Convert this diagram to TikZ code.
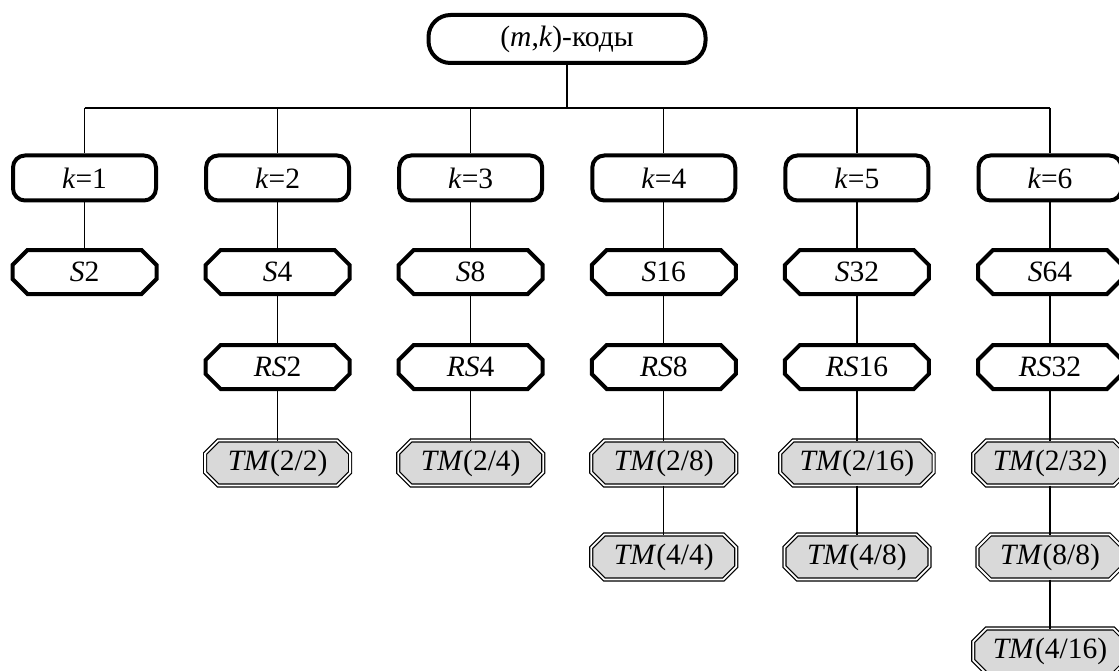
\documentclass[tikz,border=0pt]{standalone}
\usepackage{fontspec}
\setmainfont{Liberation Serif}
\usetikzlibrary{backgrounds}
\definecolor{tmgray}{RGB}{217,217,217}
\newcommand\octpath[2]{([xshift=#2]#1.north west) -- ([xshift=-#2]#1.north east)
  -- ([yshift=-#2]#1.north east) -- ([yshift=#2]#1.south east)
  -- ([xshift=-#2]#1.south east) -- ([xshift=#2]#1.south west)
  -- ([yshift=#2]#1.south west) -- ([yshift=-#2]#1.north west) -- cycle}
\tikzset{
  base/.style={font=\fontsize{29.5}{34}\selectfont, inner sep=0pt, align=center},
  topbox/.style={base, draw, line width=4pt, rounded corners=22pt, minimum width=277pt, minimum height=48pt},
  kbox/.style={base, draw, line width=4pt, rounded corners=12pt, minimum width=143pt, minimum height=45pt},
  octbox/.style={base, rectangle, outer sep=0pt, minimum width=144pt, minimum height=44pt},
  tmbox/.style={base, rectangle, outer sep=0pt, inner xsep=19.5pt, minimum width=145pt, minimum height=45pt},
  octline/.style={draw, line width=4pt, line join=miter},
  tmline/.style={draw, fill=tmgray, double=white, line width=1.2pt, double distance=1.8pt, line join=miter},
  conn/.style={line width=1.3pt}
}
\begin{document}
\begin{tikzpicture}[x=1pt,y=-1pt]
\useasboundingbox (0,0) rectangle (1119,671);
\clip (0,0) rectangle (1119,671);
% top
\node[topbox] (top) at (567,39) {(\textit{m},\textit{k})-коды};
% column 1
\node[kbox] (k1) at (84.5,178) {\textit{k}=1};
\node[octbox] (s1) at (84.5,272) {\textit{S}2};
% column 2
\node[kbox] (k2) at (277.6,178) {\textit{k}=2};
\node[octbox] (s2) at (277.6,272) {\textit{S}4};
\node[octbox] (r2) at (277.6,367) {\textit{RS}2};
\node[tmbox] (t2a) at (277.6,463) {\textit{TM}(2/2)};
% column 3
\node[kbox] (k3) at (470.7,178) {\textit{k}=3};
\node[octbox] (s3) at (470.7,272) {\textit{S}8};
\node[octbox] (r3) at (470.7,367) {\textit{RS}4};
\node[tmbox] (t3a) at (470.7,463) {\textit{TM}(2/4)};
% column 4
\node[kbox] (k4) at (663.8,178) {\textit{k}=4};
\node[octbox] (s4) at (663.8,272) {\textit{S}16};
\node[octbox] (r4) at (663.8,367) {\textit{RS}8};
\node[tmbox] (t4a) at (663.8,463) {\textit{TM}(2/8)};
\node[tmbox] (t4b) at (663.8,557) {\textit{TM}(4/4)};
% column 5
\node[kbox] (k5) at (856.9,178) {\textit{k}=5};
\node[octbox] (s5) at (856.9,272) {\textit{S}32};
\node[octbox] (r5) at (856.9,367) {\textit{RS}16};
\node[tmbox] (t5a) at (856.9,463) {\textit{TM}(2/16)};
\node[tmbox] (t5b) at (856.9,557) {\textit{TM}(4/8)};
% column 6
\node[kbox] (k6) at (1050,178) {\textit{k}=6};
\node[octbox] (s6) at (1050,272) {\textit{S}64};
\node[octbox] (r6) at (1050,367) {\textit{RS}32};
\node[tmbox] (t6a) at (1050,463) {\textit{TM}(2/32)};
\node[tmbox] (t6b) at (1050,557) {\textit{TM}(8/8)};
\node[tmbox] (t6c) at (1050,651) {\textit{TM}(4/16)};
% octagon outlines behind the texts
\begin{pgfonlayer}{background}
  \foreach \n in {s1,s2,s3,s4,s5,s6,r2,r3,r4,r5,r6} {\path[octline] \octpath{\n}{15pt};}
  \foreach \n in {t2a,t3a,t4a,t4b,t5a,t5b,t6a,t6b,t6c} {\path[tmline] \octpath{\n}{13pt};}
\end{pgfonlayer}
% bus
\coordinate (bus) at (567,108);
\coordinate (b1) at (84.5,108);
\coordinate (b2) at (277.6,108);
\coordinate (b3) at (470.7,108);
\coordinate (b4) at (663.8,108);
\coordinate (b5) at (856.9,108);
\coordinate (b6) at (1050,108);
\draw[conn] (top.south) -- (bus);
\draw[conn] (b1) -- (b6);
\foreach \i in {1,...,6} {\draw[conn] (b\i) -- (k\i.north);}
% chains
\draw[conn] (k1) -- (s1);
\draw[conn] (k2) -- (s2) -- (r2) -- (t2a);
\draw[conn] (k3) -- (s3) -- (r3) -- (t3a);
\draw[conn] (k4) -- (s4) -- (r4) -- (t4a) -- (t4b);
\draw[conn] (k5) -- (s5) -- (r5) -- (t5a) -- (t5b);
\draw[conn] (k6) -- (s6) -- (r6) -- (t6a) -- (t6b) -- (t6c);
\end{tikzpicture}
\end{document}
